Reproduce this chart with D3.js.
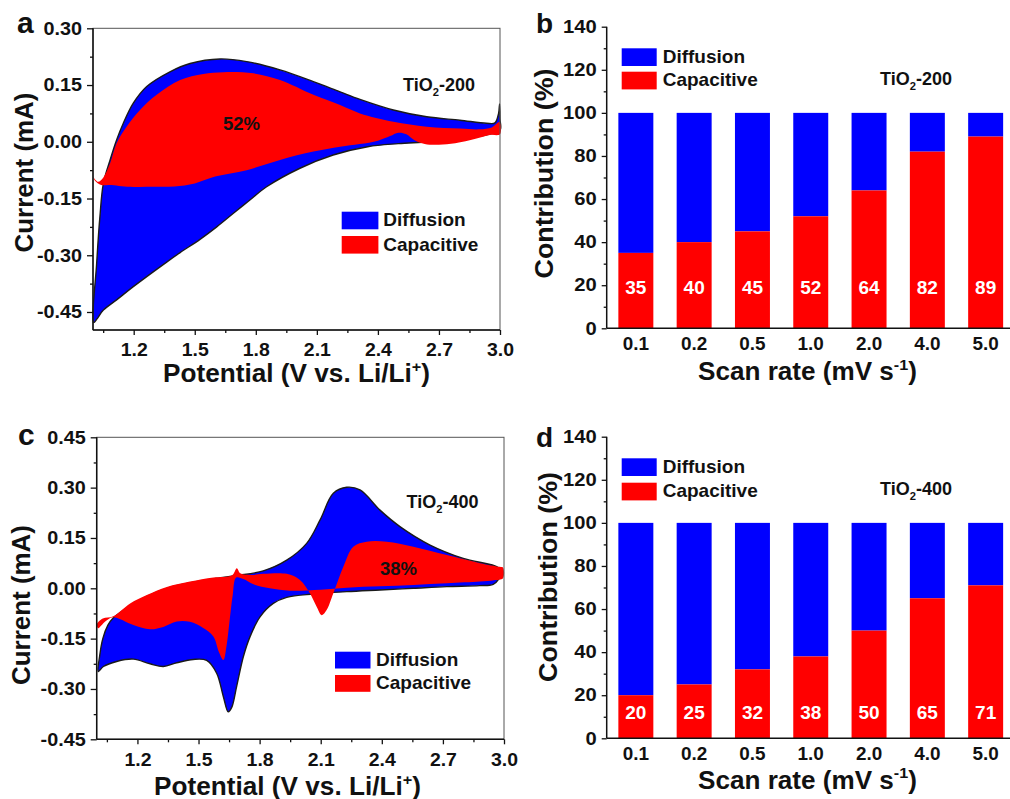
<!DOCTYPE html>
<html><head><meta charset="utf-8">
<script src="https://cdn.jsdelivr.net/npm/d3@7"></script>
<style>
html,body{margin:0;padding:0;background:#fff;}
svg{display:block;font-family:"Liberation Sans",Arial,sans-serif;font-weight:bold;}
</style></head><body>
<svg id="chart" width="1010" height="799"></svg>
<script>
// ---------- DATA ----------
// Panel a: TiO2-200 CV (potential V, current mA)
const a200TotalAnodic = [[1.003,-0.478],[1.018,-0.322],[1.034,-0.198],[1.051,-0.110],[1.084,-0.048],[1.116,0.005],[1.149,0.049],[1.198,0.102],[1.264,0.146],[1.378,0.185],[1.477,0.207],[1.624,0.219],[1.755,0.212],[1.919,0.190],[2.083,0.159],[2.214,0.132],[2.312,0.112],[2.476,0.084],[2.640,0.066],[2.803,0.057],[2.934,0.049],[2.975,0.050],[2.993,0.075],[2.998,0.100]];
const a200TotalCathodic = [[3.0,0.060],[3.0,0.030],[2.93,0.018],[2.80,0.008],[2.65,0.000],[2.50,-0.005],[2.35,-0.013],[2.18,-0.035],[2.017,-0.070],[1.853,-0.119],[1.771,-0.154],[1.69,-0.189],[1.608,-0.225],[1.526,-0.258],[1.428,-0.293],[1.362,-0.318],[1.198,-0.383],[1.116,-0.418],[1.051,-0.445],[1.020,-0.468]];
const a200CapAnodic = [[1.0,-0.093],[1.025,-0.106],[1.05,-0.095],[1.084,-0.057],[1.116,-0.004],[1.165,0.040],[1.231,0.084],[1.313,0.124],[1.428,0.163],[1.542,0.179],[1.640,0.184],[1.788,0.181],[1.919,0.163],[2.083,0.124],[2.214,0.097],[2.312,0.075],[2.476,0.053],[2.640,0.040],[2.803,0.035],[2.90,0.033],[2.96,0.038],[2.997,0.052]];
const a200CapCathodic = [[3.0,0.020],[2.95,0.018],[2.88,0.008],[2.78,-0.004],[2.70,-0.008],[2.63,-0.006],[2.58,0.004],[2.54,0.020],[2.50,0.024],[2.46,0.015],[2.40,0.003],[2.31,-0.006],[2.214,-0.013],[2.083,-0.026],[1.919,-0.048],[1.755,-0.075],[1.60,-0.092],[1.50,-0.110],[1.40,-0.118],[1.30,-0.119],[1.182,-0.119],[1.08,-0.114],[1.04,-0.114],[1.01,-0.103]];

// Panel c: TiO2-400 CV
const c400TotalAnodic = [[1.008,-0.248],[1.015,-0.200],[1.030,-0.150],[1.055,-0.110],[1.082,-0.088],[1.164,-0.052],[1.246,-0.024],[1.344,0.000],[1.458,0.016],[1.573,0.028],[1.687,0.038],[1.818,0.052],[1.933,0.084],[2.031,0.134],[2.097,0.204],[2.162,0.283],[2.228,0.301],[2.293,0.293],[2.391,0.233],[2.489,0.184],[2.637,0.129],[2.80,0.089],[2.972,0.062],[2.985,0.045]];
const c400TotalCathodic = [[2.975,0.028],[2.947,0.012],[2.88,0.008],[2.719,0.005],[2.555,0.000],[2.391,-0.005],[2.228,-0.010],[2.064,-0.017],[1.933,-0.027],[1.867,-0.045],[1.802,-0.085],[1.753,-0.144],[1.720,-0.204],[1.687,-0.293],[1.663,-0.355],[1.646,-0.368],[1.622,-0.323],[1.589,-0.253],[1.540,-0.215],[1.474,-0.212],[1.393,-0.222],[1.327,-0.233],[1.262,-0.225],[1.180,-0.211],[1.098,-0.218],[1.033,-0.233]];
const c400CapAnodic = [[1.0,-0.108],[1.03,-0.090],[1.082,-0.083],[1.164,-0.045],[1.246,-0.020],[1.344,0.004],[1.458,0.020],[1.573,0.032],[1.665,0.039],[1.688,0.060],[1.705,0.045],[1.760,0.040],[1.818,0.043],[1.933,0.043],[1.998,0.025],[2.047,-0.015],[2.080,-0.055],[2.105,-0.080],[2.129,-0.065],[2.162,-0.015],[2.211,0.064],[2.260,0.124],[2.326,0.139],[2.424,0.139],[2.555,0.124],[2.719,0.099],[2.882,0.075],[2.977,0.064],[2.995,0.062]];
const c400CapCathodic = [[2.995,0.030],[2.95,0.024],[2.882,0.020],[2.719,0.015],[2.555,0.010],[2.391,0.006],[2.228,0.002],[2.10,-0.004],[1.95,-0.007],[1.85,0.000],[1.77,0.012],[1.72,0.028],[1.685,0.032],[1.668,-0.020],[1.652,-0.100],[1.638,-0.170],[1.622,-0.214],[1.600,-0.190],[1.573,-0.144],[1.523,-0.118],[1.458,-0.100],[1.393,-0.099],[1.327,-0.115],[1.262,-0.122],[1.180,-0.109],[1.082,-0.086],[1.05,-0.095],[1.02,-0.112],[1.008,-0.119]];

// Panels b, d: contributions (%)
const scanRates = ["0.1","0.2","0.5","1.0","2.0","4.0","5.0"];
const capTiO2_200 = [35,40,45,52,64,82,89];
const capTiO2_400 = [20,25,32,38,50,65,71];

// Tick values
const cvXTicks = [1.2,1.5,1.8,2.1,2.4,2.7,3.0];
const cvXMinor = [1.05,1.35,1.65,1.95,2.25,2.55,2.85];
const aYTicks = [-0.45,-0.30,-0.15,0.00,0.15,0.30];
const aYMinor = [-0.375,-0.225,-0.075,0.075,0.225];
const cYTicks = [-0.45,-0.30,-0.15,0.00,0.15,0.30,0.45];
const cYMinor = [-0.375,-0.225,-0.075,0.075,0.225,0.375];
const barYTicks = [0,20,40,60,80,100,120,140];
const barYMinor = [10,30,50,70,90,110,130];

// ---------- DRAWING ----------
const svg = d3.select("#chart");
const BLUE = "#0000FF", RED = "#FF0000", INK = "#111";

function addText(parent, o) {
  const size = o.size || 18;
  const g = parent.append("g").attr("transform", `translate(${o.x},${o.y}) rotate(${o.rot || 0})`);
  const t = g.append("text").attr("text-anchor", o.anchor || "start")
    .attr("font-size", size).attr("fill", o.fill || INK);
  let pending = 0;
  o.parts.forEach(p => {
    if (typeof p === "string") {
      const ts = t.append("tspan").text(p);
      if (pending) { ts.attr("dy", pending); pending = 0; }
    } else {
      const isSup = p.sup !== undefined;
      const shift = isSup ? -0.42 * size : 0.28 * size;
      t.append("tspan").attr("dy", shift + pending).attr("font-size", size * 0.62).text(isSup ? p.sup : p.sub);
      pending = -shift;
    }
  });
  if (o.width) {
    const w = t.node().getComputedTextLength();
    t.attr("transform", `scale(${o.width / w},1)`);
  }
  return t;
}

function styleAxis(g, fontSize, stretch) {
  g.selectAll("text").attr("font-size", fontSize).attr("fill", INK)
    .attr("font-family", '"Liberation Sans",Arial,sans-serif').attr("font-weight", "bold")
    .each(function () {
      if (stretch && this.textContent) {
        const w = this.getComputedTextLength();
        d3.select(this).attr("textLength", w * stretch).attr("lengthAdjust", "spacingAndGlyphs");
      }
    });
  g.selectAll("line").attr("stroke", INK).attr("stroke-width", 1.3);
  g.select(".domain").remove();
}

// CV panels
const cvPanels = [
  {xr:[93,500], yr:[330,28.3], yd:[-0.4976,0.30], yT:aYTicks, yM:aYMinor,
   tot:[a200TotalAnodic,a200TotalCathodic], cap:[a200CapAnodic,a200CapCathodic],
   letter:{t:"a",x:17,y:33}, sample:{t:"200",x:403,y:91}, pct:{t:"52%",x:241.5,y:130},
   leg:{x:341.7,y:211.7,w:36.7,h:17.6,gap:24.3,tx:383.3},
   xTitle:{x:296.5,y:382}, yTitle:{x:33,y:172.5}},
  {xr:[96.7,504], yr:[739.3,437.3], yd:[-0.45,0.45], yT:cYTicks, yM:cYMinor,
   tot:[c400TotalAnodic,c400TotalCathodic], cap:[c400CapAnodic,c400CapCathodic],
   letter:{t:"c",x:18,y:445}, sample:{t:"400",x:406.5,y:507.5}, pct:{t:"38%",x:398.5,y:575},
   leg:{x:335,y:651.7,w:35.5,h:16.8,gap:23.3,tx:376},
   xTitle:{x:287.5,y:795}, yTitle:{x:30,y:605}}
];

const loop = d3.line().curve(d3.curveCatmullRomClosed.alpha(0.5));

cvPanels.forEach(P => {
  const x = d3.scaleLinear().domain([1.0, 3.0]).range(P.xr);
  const y = d3.scaleLinear().domain(P.yd).range(P.yr);
  const g = svg.append("g");
  const pts = arr => arr.map(d => [x(d[0]), y(d[1])]);
  g.append("path").attr("d", loop(pts(P.tot[0].concat(P.tot[1]))))
    .attr("fill", BLUE).attr("stroke", "#1a1a1a").attr("stroke-width", 1.4).attr("stroke-linejoin", "round");
  g.append("path").attr("d", loop(pts(P.cap[0].concat(P.cap[1]))))
    .attr("fill", RED).attr("stroke", "none");

  // frame
  g.append("rect").attr("x", P.xr[0]).attr("y", P.yr[1]).attr("width", P.xr[1] - P.xr[0]).attr("height", P.yr[0] - P.yr[1])
    .attr("fill", "none").attr("stroke", "#555").attr("stroke-width", 1);
  g.append("line").attr("x1", P.xr[0]).attr("x2", P.xr[0]).attr("y1", P.yr[1]).attr("y2", P.yr[0]).attr("stroke", INK).attr("stroke-width", 1.5);
  g.append("line").attr("x1", P.xr[0]).attr("x2", P.xr[1]).attr("y1", P.yr[0]).attr("y2", P.yr[0]).attr("stroke", INK).attr("stroke-width", 1.5);

  const ya = g.append("g").attr("transform", `translate(${P.xr[0]},0)`)
    .call(d3.axisLeft(y).tickValues(P.yT).tickSize(6).tickSizeOuter(0).tickPadding(5).tickFormat(d => d.toFixed(2)));
  styleAxis(ya, 18, 1.1);
  const ym = g.append("g").attr("transform", `translate(${P.xr[0]},0)`)
    .call(d3.axisLeft(y).tickValues(P.yM).tickSize(3).tickSizeOuter(0).tickFormat(""));
  styleAxis(ym, 18);
  const xa = g.append("g").attr("transform", `translate(0,${P.yr[0]})`)
    .call(d3.axisBottom(x).tickValues(cvXTicks).tickSize(5).tickSizeOuter(0).tickPadding(8.5).tickFormat(d => d.toFixed(1)));
  styleAxis(xa, 18, 1.08);
  const xm = g.append("g").attr("transform", `translate(0,${P.yr[0]})`)
    .call(d3.axisBottom(x).tickValues(cvXMinor).tickSize(3).tickSizeOuter(0).tickFormat(""));
  styleAxis(xm, 18);

  addText(svg, {x:P.letter.x, y:P.letter.y, size:30, parts:[P.letter.t]});
  addText(svg, {x:P.sample.x, y:P.sample.y, size:18, parts:["TiO", {sub:"2"}, "-" + P.sample.t]});
  addText(svg, {x:P.pct.x, y:P.pct.y, size:18.5, anchor:"middle", parts:[P.pct.t]});
  const L = P.leg;
  g.append("rect").attr("x", L.x).attr("y", L.y).attr("width", L.w).attr("height", L.h).attr("fill", BLUE);
  g.append("rect").attr("x", L.x).attr("y", L.y + L.gap).attr("width", L.w).attr("height", L.h).attr("fill", RED);
  addText(svg, {x:L.tx, y:L.y + L.h - 3, size:19, parts:["Diffusion"]});
  addText(svg, {x:L.tx, y:L.y + L.gap + L.h - 3, size:19, parts:["Capacitive"]});
  addText(svg, {x:P.xTitle.x, y:P.xTitle.y, size:25, anchor:"middle", width:267, parts:["Potential (V vs. Li/Li", {sup:"+"}, ")"]});
  addText(svg, {x:P.yTitle.x, y:P.yTitle.y, size:26, anchor:"middle", rot:-90, width:160, parts:["Current (mA)"]});
});

// Bar panels
const barPanels = [
  {yr:[328.3,26.7], cap:capTiO2_200, sample:"200", labelAt:16,
   letter:{t:"b",x:536,y:33}, sampleXY:{x:880,y:85},
   leg:{x:621.7,y:48.3,w:35,h:17.7,gap:23.4,tx:662.7},
   xTitle:{x:807.5,y:380}, yTitle:{x:553,y:173.5}},
  {yr:[738.3,436.7], cap:capTiO2_400, sample:"400", labelAt:9,
   letter:{t:"d",x:536,y:446.5}, sampleXY:{x:880,y:495},
   leg:{x:621.7,y:458.3,w:35,h:17.7,gap:24.4,tx:662.7},
   xTitle:{x:807.5,y:788.5}, yTitle:{x:557,y:577}}
];

barPanels.forEach(P => {
  const x = d3.scaleBand().domain(scanRates).range([606.7, 1014.8]).paddingInner(0.4).paddingOuter(0.2);
  const y = d3.scaleLinear().domain([0, 140]).range(P.yr);
  const g = svg.append("g");
  const rows = scanRates.map((s, i) => ({s, cap: P.cap[i]}));
  g.selectAll("rect.diff").data(rows).join("rect").attr("class", "diff")
    .attr("x", d => x(d.s)).attr("width", x.bandwidth())
    .attr("y", y(100)).attr("height", d => y(d.cap) - y(100)).attr("fill", BLUE);
  g.selectAll("rect.cap").data(rows).join("rect").attr("class", "cap")
    .attr("x", d => x(d.s)).attr("width", x.bandwidth())
    .attr("y", d => y(d.cap)).attr("height", d => y(0) - y(d.cap)).attr("fill", RED);
  g.selectAll("text.val").data(rows).join("text").attr("class", "val")
    .attr("x", d => x(d.s) + x.bandwidth() / 2).attr("y", y(P.labelAt))
    .attr("text-anchor", "middle").attr("font-size", 19).attr("fill", "#fff").text(d => d.cap);

  g.append("line").attr("x1", 606.7).attr("x2", 606.7).attr("y1", P.yr[1]).attr("y2", P.yr[0]).attr("stroke", INK).attr("stroke-width", 1.5);
  g.append("line").attr("x1", 606.7).attr("x2", 1010).attr("y1", P.yr[0]).attr("y2", P.yr[0]).attr("stroke", INK).attr("stroke-width", 1.5);

  const ya = g.append("g").attr("transform", "translate(606.7,0)")
    .call(d3.axisLeft(y).tickValues(barYTicks).tickSize(5).tickSizeOuter(0).tickPadding(5));
  styleAxis(ya, 18, 1.12);
  const ym = g.append("g").attr("transform", "translate(606.7,0)")
    .call(d3.axisLeft(y).tickValues(barYMinor).tickSize(3).tickSizeOuter(0).tickFormat(""));
  styleAxis(ym, 18);
  const xa = g.append("g").attr("transform", `translate(0,${P.yr[0]})`)
    .call(d3.axisBottom(x).tickSize(0).tickPadding(8.5));
  styleAxis(xa, 18, 1.05);

  addText(svg, {x:P.letter.x, y:P.letter.y, size:28, parts:[P.letter.t]});
  addText(svg, {x:P.sampleXY.x, y:P.sampleXY.y, size:18, parts:["TiO", {sub:"2"}, "-" + P.sample]});
  const L = P.leg;
  g.append("rect").attr("x", L.x).attr("y", L.y).attr("width", L.w).attr("height", L.h).attr("fill", BLUE);
  g.append("rect").attr("x", L.x).attr("y", L.y + L.gap).attr("width", L.w).attr("height", L.h).attr("fill", RED);
  addText(svg, {x:L.tx, y:L.y + L.h - 3, size:19, parts:["Diffusion"]});
  addText(svg, {x:L.tx, y:L.y + L.gap + L.h - 3, size:19, parts:["Capacitive"]});
  addText(svg, {x:P.xTitle.x, y:P.xTitle.y, size:25, anchor:"middle", width:219, parts:["Scan rate (mV s", {sup:"-1"}, ")"]});
  addText(svg, {x:P.yTitle.x, y:P.yTitle.y, size:26, anchor:"middle", rot:-90, width:210, parts:["Contribution (%)"]});
});
</script></body></html>
